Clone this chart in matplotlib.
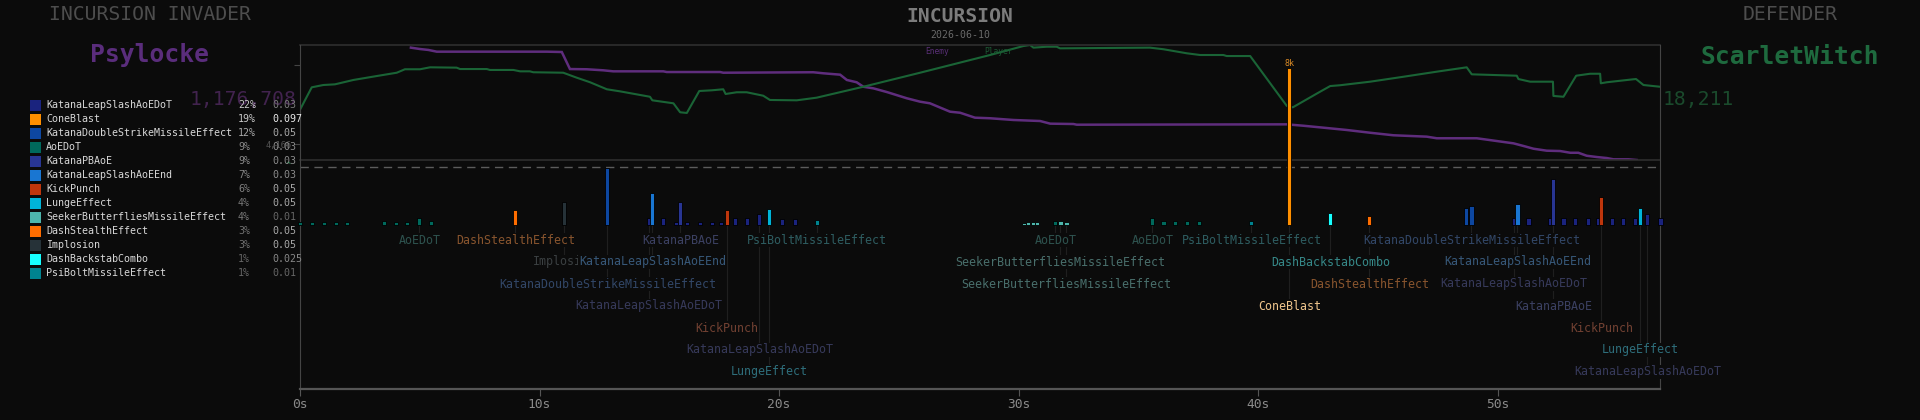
import matplotlib
matplotlib.use("Agg")
import matplotlib.pyplot as plt
from matplotlib.patches import Rectangle
import numpy as np

BG = "#0b0b0b"
FONT = "DejaVu Sans Mono"
plt.rcParams["font.family"] = [FONT]

# ---------------- data ----------------
legend_names = ["KatanaLeapSlashAoEDoT", "ConeBlast", "KatanaDoubleStrikeMissileEffect", "AoEDoT",
                "KatanaPBAoE", "KatanaLeapSlashAoEEnd", "KickPunch", "LungeEffect",
                "SeekerButterfliesMissileEffect", "DashStealthEffect", "Implosion",
                "DashBackstabCombo", "PsiBoltMissileEffect"]
legend_pcts = ["22%", "19%", "12%", "9%", "9%", "7%", "6%", "4%", "4%", "3%", "3%", "1%", "1%"]
legend_vals = ["0.03", "0.097", "0.05", "0.03", "0.03", "0.03", "0.05", "0.05", "0.01", "0.05", "0.05", "0.025", "0.01"]
ability_colors = ["#1a237e", "#ff8f00", "#0d47a1", "#00695c", "#283593", "#1976d2", "#bf360c",
                  "#00b4d8", "#4db6ac", "#ff6d00", "#263238", "#18ffff", "#00838f"]
pct_colors = ["#c8c8c8", "#c8c8c8", "#a8a8a8", "#8a8a8a", "#8a8a8a", "#858585", "#808080",
              "#777777", "#777777", "#707070", "#707070", "#666666", "#666666"]
val_colors = ["#7a7a7a", "#e8e8e8", "#a8a8a8", "#8a8a8a", "#8a8a8a", "#8a8a8a", "#a8a8a8",
              "#a8a8a8", "#666666", "#a8a8a8", "#a8a8a8", "#888888", "#666666"]

# damage events: time (s), ability, bar height
bar_times = [0.01, 0.51, 1.01, 1.52, 1.97, 3.52, 4.02, 4.48, 4.98, 5.48,
             8.99, 11.04, 12.83, 14.57, 14.71, 15.17, 15.69, 15.88, 16.17, 16.71,
             17.19, 17.59, 17.83, 18.18, 18.68, 19.18, 19.58, 20.14, 20.67, 21.60,
             30.22, 30.41, 30.59, 30.76, 31.54, 31.75, 32.00, 35.59, 36.05, 36.55,
             37.05, 37.55, 39.72, 41.31, 43.02, 44.65, 48.67, 48.91, 50.69, 50.83,
             51.29, 52.19, 52.33, 52.75, 53.25, 53.79, 54.20, 54.33, 54.79, 55.25,
             55.75, 55.96, 56.25, 56.80]
bar_abilities = ["AoEDoT"] * 10 + [
    "DashStealthEffect", "Implosion", "KatanaDoubleStrikeMissileEffect", "KatanaLeapSlashAoEDoT",
    "KatanaLeapSlashAoEEnd", "KatanaLeapSlashAoEDoT", "KatanaLeapSlashAoEDoT", "KatanaPBAoE",
    "KatanaLeapSlashAoEDoT", "KatanaLeapSlashAoEDoT",
    "KatanaLeapSlashAoEDoT", "KatanaLeapSlashAoEDoT", "KickPunch", "KatanaLeapSlashAoEDoT",
    "KatanaLeapSlashAoEDoT", "KatanaLeapSlashAoEDoT", "LungeEffect", "KatanaLeapSlashAoEDoT",
    "KatanaLeapSlashAoEDoT", "PsiBoltMissileEffect",
    "SeekerButterfliesMissileEffect", "SeekerButterfliesMissileEffect", "SeekerButterfliesMissileEffect",
    "SeekerButterfliesMissileEffect", "AoEDoT", "SeekerButterfliesMissileEffect",
    "SeekerButterfliesMissileEffect", "AoEDoT", "AoEDoT", "AoEDoT",
    "AoEDoT", "AoEDoT", "PsiBoltMissileEffect", "ConeBlast", "DashBackstabCombo", "DashStealthEffect",
    "KatanaDoubleStrikeMissileEffect", "KatanaDoubleStrikeMissileEffect", "KatanaLeapSlashAoEDoT",
    "KatanaLeapSlashAoEEnd",
    "KatanaLeapSlashAoEDoT", "KatanaLeapSlashAoEDoT", "KatanaPBAoE", "KatanaLeapSlashAoEDoT",
    "KatanaLeapSlashAoEDoT", "KatanaLeapSlashAoEDoT", "KatanaLeapSlashAoEDoT", "KickPunch",
    "KatanaLeapSlashAoEDoT", "KatanaLeapSlashAoEDoT",
    "KatanaLeapSlashAoEDoT", "LungeEffect", "KatanaLeapSlashAoEDoT", "KatanaLeapSlashAoEDoT"]
bar_heights = [3, 3, 3, 3, 3, 4, 3, 3, 7, 4,
               15, 23, 57, 7, 32, 7, 3, 23, 3, 3,
               3, 3, 15, 7, 7, 11, 16, 6, 6, 5,
               2, 3, 3, 3, 4, 4, 3, 7, 4, 4,
               4, 4, 4, 157, 12, 9, 17, 19, 7, 21,
               7, 7, 46, 7, 7, 7, 7, 28, 7, 7,
               7, 17, 11, 7]
peak_label = "8k"

# hit labels under the bars
label_times = [4.98, 8.99, 11.04, 12.83, 14.57, 14.71, 15.88, 17.83, 19.18, 19.58, 21.60,
               31.54, 31.75, 32.00, 35.59, 39.72, 41.31, 43.02, 44.65, 48.91, 50.69, 50.83,
               52.33, 54.33, 55.96, 56.25]
label_names = ["AoEDoT", "DashStealthEffect", "Implosion", "KatanaDoubleStrikeMissileEffect",
               "KatanaLeapSlashAoEDoT", "KatanaLeapSlashAoEEnd", "KatanaPBAoE", "KickPunch",
               "KatanaLeapSlashAoEDoT", "LungeEffect", "PsiBoltMissileEffect",
               "AoEDoT", "SeekerButterfliesMissileEffect", "SeekerButterfliesMissileEffect",
               "AoEDoT", "PsiBoltMissileEffect", "ConeBlast", "DashBackstabCombo",
               "DashStealthEffect", "KatanaDoubleStrikeMissileEffect", "KatanaLeapSlashAoEDoT",
               "KatanaLeapSlashAoEEnd", "KatanaPBAoE", "KickPunch", "LungeEffect",
               "KatanaLeapSlashAoEDoT"]
label_rows = [1, 1, 2, 3, 4, 2, 1, 5, 6, 7, 1,
              1, 2, 3, 1, 1, 4, 2, 3, 1, 3, 2, 4, 5, 6, 7]

# health curves (% of max)
player_t = [0.01, 0.49, 0.97, 1.46, 2.23, 3.20, 4.04, 4.38, 5.01, 5.43, 6.54, 6.68, 7.80, 7.93,
            8.91, 9.19, 9.60, 9.74, 10.99, 11.55, 12.11, 12.81, 13.36, 14.61, 14.71, 15.59,
            15.87, 16.15, 16.67, 17.19, 17.67, 17.77, 18.23, 18.65, 19.34, 19.62, 20.74,
            21.57, 23.52, 25.89, 28.81, 30.20, 30.48, 30.62, 31.18, 31.59, 31.73, 35.49,
            36.05, 37.02, 37.58, 38.55, 38.69, 39.67, 41.20, 41.45, 42.59, 43.01, 43.42,
            44.68, 46.07, 47.46, 48.71, 48.92, 50.80, 50.87, 51.36, 52.31, 52.33, 52.75,
            53.28, 53.86, 54.28, 54.31, 54.56, 55.67, 55.78, 56.09, 56.78]
player_hp = [44.1, 63.2, 65.2, 65.8, 69.6, 73.0, 75.9, 78.9, 78.9, 80.6, 80.3, 79.1, 79.1, 78.3,
             78.3, 77.1, 77.1, 76.3, 75.9, 71.6, 67.6, 61.5, 59.7, 55.0, 51.9, 49.3,
             41.5, 40.9, 60.0, 60.6, 61.5, 57.4, 58.9, 58.9, 55.9, 52.2, 51.9,
             54.2, 63.7, 75.9, 91.3, 99.1, 100.0, 97.7, 98.5, 98.5, 97.1, 97.7,
             96.3, 92.8, 91.3, 91.3, 90.4, 90.4, 47.0, 45.8, 59.4, 64.3, 65.0,
             68.1, 72.4, 76.8, 80.6, 74.5, 73.3, 70.4, 68.1, 68.1, 55.7, 55.0,
             73.3, 75.0, 75.0, 66.7, 67.6, 70.2, 70.4, 65.2, 63.7]
enemy_t = [4.63, 5.01, 5.36, 5.71, 10.30, 10.93, 11.27, 11.97, 12.66, 13.08, 15.17, 15.31,
           17.54, 17.67, 21.43, 21.85, 22.55, 22.83, 23.24, 23.52, 23.94, 24.50, 25.33,
           25.89, 26.30, 27.14, 27.56, 28.18, 28.81, 29.78, 30.90, 31.32, 32.29, 32.43,
           41.20, 41.89, 42.73, 43.70, 44.68, 45.65, 47.04, 47.46, 49.13, 49.55, 50.24,
           50.66, 51.08, 51.50, 52.05, 52.61, 53.03, 53.37, 53.72, 54.14, 54.56, 54.84,
           55.46, 55.81]
enemy_hp = [97.7, 96.5, 95.7, 94.2, 94.2, 93.9, 79.1, 78.9, 78.0, 77.1, 77.1, 76.5,
            76.5, 75.9, 76.3, 75.4, 74.2, 69.6, 67.6, 63.7, 62.3, 59.1, 53.7,
            50.7, 49.3, 42.0, 41.1, 36.8, 36.3, 34.8, 33.9, 31.6, 31.3, 30.7,
            31.0, 29.8, 28.1, 26.1, 23.7, 21.5, 20.3, 18.9, 18.9, 17.7, 15.7,
            14.5, 12.2, 9.8, 8.1, 7.8, 6.3, 6.3, 3.7, 2.6, 1.7, 0.6,
            0.6, 0.0]

x_ticks = [0, 10, 20, 30, 40, 50]
x_tick_labels = ["0s", "10s", "20s", "30s", "40s", "50s"]
hp_ticks = [13.9, 82.6]
hp_tick_labels = ["4,166", ""]

attacker_title = "INCURSION INVADER"
attacker_name = "Psylocke"
attacker_total = "1,176,708"
defender_title = "DEFENDER"
defender_name = "ScarletWitch"
defender_total = "18,211"
main_title = "INCURSION"
date_text = "2026-06-10"

# ---------------- layout helpers ----------------
W, H = 1920, 420
def fx(x):
    return x / W
def fy(y):
    return 1 - y / H

PURPLE = "#5f2d7d"
GREEN = "#1a6436"
color_of = dict(zip(legend_names, ability_colors))

def mix(c, k=0.36, g=0.28):
    r = matplotlib.colors.to_rgb(c)
    return tuple(k * v + (1 - k) * g for v in r)

fig = plt.figure(figsize=(19.2, 4.2), dpi=100, facecolor=BG)

# health panel
ax_hp = fig.add_axes([fx(300), fy(160), fx(1660) - fx(300), fy(45) - fy(160)])
ax_hp.set_facecolor("none")
ax_hp.set_zorder(1)
ax_hp.set_xlim(0, 56.78)
ax_hp.set_ylim(0, 100)
for s in ["left", "right"]:
    ax_hp.spines[s].set_visible(False)
for s in ["top", "bottom"]:
    ax_hp.spines[s].set_color("#2e2e2e")
    ax_hp.spines[s].set_linewidth(1.2)
ax_hp.set_xticks([])
ax_hp.set_yticks(hp_ticks)
ax_hp.set_yticklabels(hp_tick_labels, fontsize=6.2, color="#555555", family=FONT)
ax_hp.tick_params(axis="y", length=4, color="#444444", pad=2)
ax_hp.plot(enemy_t, enemy_hp, color=PURPLE, lw=1.8, solid_joinstyle="miter")
ax_hp.plot(player_t, player_hp, color=GREEN, lw=1.5)
ax_hp.text(fx(937.5), fy(52), "Enemy", transform=fig.transFigure, ha="center", va="center",
           fontsize=5.7, color="#5a2f78")
ax_hp.text(fx(999), fy(52), "Player", transform=fig.transFigure, ha="center", va="center",
           fontsize=5.7, color="#1c5a34")

# bar / label panel (1 unit = 1 px, baseline at y=225 px)
ax = fig.add_axes([fx(300), fy(389), fx(1660) - fx(300), fy(45) - fy(389)])
ax.set_facecolor("none")
ax.set_zorder(2)
ax.set_xlim(0, 56.78)
ax.set_ylim(225 - 389, 225 - 45)
ax.spines["top"].set_visible(False)
ax.spines["left"].set_color("#444444")
ax.spines["right"].set_color("#444444")
ax.spines["bottom"].set_color("#555555")
ax.spines["bottom"].set_linewidth(1.6)
ax.set_yticks([])
ax.set_xticks(x_ticks)
ax.set_xticklabels(x_tick_labels, fontsize=9.3, color="#8a8a8a", family=FONT)
ax.tick_params(axis="x", length=5, color="#555555", pad=1.5)

# threshold dashed line
ax.axhline(225 - 167, color="#5c5c5c", lw=1.0, ls=(0, (6, 4)), xmax=0.997)

bar_cols = [color_of[a] for a in bar_abilities]
ax.bar(bar_times, bar_heights, width=0.17, bottom=0, color=bar_cols,
       edgecolor="#000000", linewidth=0.6, zorder=4, clip_on=False)
imax = int(np.argmax(bar_heights))
ax.text(bar_times[imax], bar_heights[imax] + 4, peak_label, ha="center", va="center",
        fontsize=6, color="#d98a26", zorder=5)

# labels
for i, (t, name, r) in enumerate(sorted(zip(label_times, label_names, label_rows))):
    yc = -15 - 22 * (r - 1)
    ax.plot([t, t], [0, yc + 6], color="#1f1f1f", lw=0.8, zorder=1, clip_on=False)
    col = "#efc58c" if name == "ConeBlast" else mix(color_of[name])
    ax.text(t, yc, name, ha="center", va="center", fontsize=8.35, color=col,
            zorder=3 + i * 0.01, clip_on=False,
            bbox=dict(boxstyle="square,pad=0.08", fc=BG, ec="none"))

# small marker at the left of the dashed line
fig.text(fx(288), fy(166), "^", ha="center", va="center", fontsize=6, color="#1f9a55")

# headers
fig.text(fx(150), fy(15), attacker_title, ha="center", va="center", fontsize=14.2, color="#4d4d4d")
fig.text(fx(150), fy(55), attacker_name, ha="center", va="center", fontsize=17.7,
         fontweight="bold", color="#5a2d7c")
fig.text(fx(297), fy(99), attacker_total, ha="right", va="center", fontsize=14.1,
         color="#42234f", zorder=0)
fig.text(fx(1790), fy(15), defender_title, ha="center", va="center", fontsize=14.2, color="#4d4d4d")
fig.text(fx(1790), fy(57), defender_name, ha="center", va="center", fontsize=17.7,
         fontweight="bold", color="#1e6a3e")
fig.text(fx(1663), fy(99), defender_total, ha="left", va="center", fontsize=14.1, color="#1a4a2c")
fig.text(fx(960), fy(16), main_title, ha="center", va="center", fontsize=14.1,
         fontweight="bold", color="#7c7c7c")
fig.text(fx(960), fy(35), date_text, ha="center", va="center", fontsize=7.1, color="#6a6a6a")

# legend
for i, name in enumerate(legend_names):
    yc = 105.3 + 14 * i
    fig.patches.append(Rectangle((fx(30), fy(yc + 5.5)), 11 / W, 11 / H,
                                 transform=fig.transFigure, facecolor=ability_colors[i],
                                 edgecolor="none"))
    fig.text(fx(46), fy(yc), name, ha="left", va="center", fontsize=7.2, color="#d8d8d8")
    fig.text(fx(238), fy(yc), legend_pcts[i], ha="left", va="center", fontsize=7.2,
             color=pct_colors[i])
    fig.text(fx(272), fy(yc), legend_vals[i], ha="left", va="center", fontsize=7.2,
             color=val_colors[i])

fig.savefig("out.png", dpi=100, facecolor=BG)
